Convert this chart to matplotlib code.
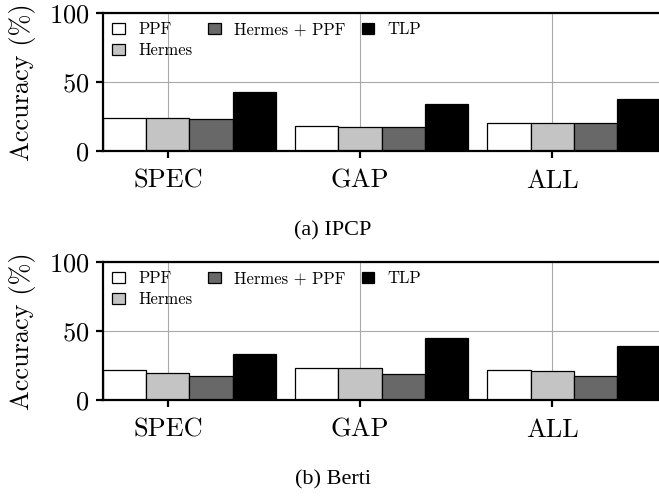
import matplotlib
matplotlib.use("Agg")
import matplotlib.pyplot as plt
import numpy as np

plt.rcParams['font.family'] = ['cmr10', 'DejaVu Serif']
plt.rcParams['mathtext.fontset'] = 'cm'
plt.rcParams['axes.unicode_minus'] = False
plt.rcParams['axes.formatter.use_mathtext'] = True

groups = ['SPEC', 'GAP', 'ALL']
series = ['PPF', 'Hermes', 'Hermes + PPF', 'TLP']
colors = ['white', '#c4c4c4', '#686868', 'black']

ipcp = [
    [24.1, 17.8, 20.5],   # PPF
    [24.1, 17.3, 20.5],   # Hermes
    [23.4, 17.3, 20.2],   # Hermes + PPF
    [43.0, 34.2, 38.0],   # TLP
]
berti = [
    [21.5, 22.9, 22.0],
    [19.3, 23.4, 21.3],
    [17.1, 18.6, 17.7],
    [33.3, 45.1, 39.4],
]
captions = ['(a) IPCP', '(b) Berti']

W, H = 659, 498
fig = plt.figure(figsize=(W / 100, H / 100), dpi=100)

w = 0.225
x = np.arange(len(groups))
ax_left = 103
ax_w = (2 + 4 * w) * 192.2
panels = [(13, 151), (262, 400)]

for data, cap, (top, bot) in zip([ipcp, berti], captions, panels):
    ax = fig.add_axes([ax_left / W, 1 - bot / H, ax_w / W, (bot - top) / H])
    for j, (name, vals) in enumerate(zip(series, data)):
        ax.bar(x + (j - 1) * w, vals, width=w, color=colors[j],
               edgecolor='black', linewidth=0.9, label=name, zorder=2)
    ax.set_xlim(-1.5 * w, 2 + 2.5 * w)
    ax.set_ylim(0, 100)
    ax.set_yticks([0, 50, 100])
    ax.set_xticks(x, labels=groups)
    ax.grid(True, color='#aaaaaa', linewidth=0.8)
    ax.set_axisbelow(True)
    for s in ['left', 'bottom', 'top']:
        ax.spines[s].set_linewidth(1.6)
    ax.spines['right'].set_visible(False)
    ax.tick_params(axis='both', labelsize=19, width=1.6, length=5)
    ax.tick_params(axis='y', pad=5)
    ax.tick_params(axis='x', pad=8)
    ax.set_ylabel('Accuracy (%)', fontsize=19, labelpad=9)
    ax.legend(loc='upper left', ncol=3, frameon=False, fontsize=12,
              handlelength=0.75, handleheight=0.6, handletextpad=0.8,
              columnspacing=0.96, labelspacing=0.33,
              borderaxespad=0.25, borderpad=0.3)
    fig.text(333 / W, 1 - (bot + 80) / H, cap, ha='center', va='center',
             fontsize=16, family='Liberation Serif')

fig.savefig('out.png', dpi=100)
